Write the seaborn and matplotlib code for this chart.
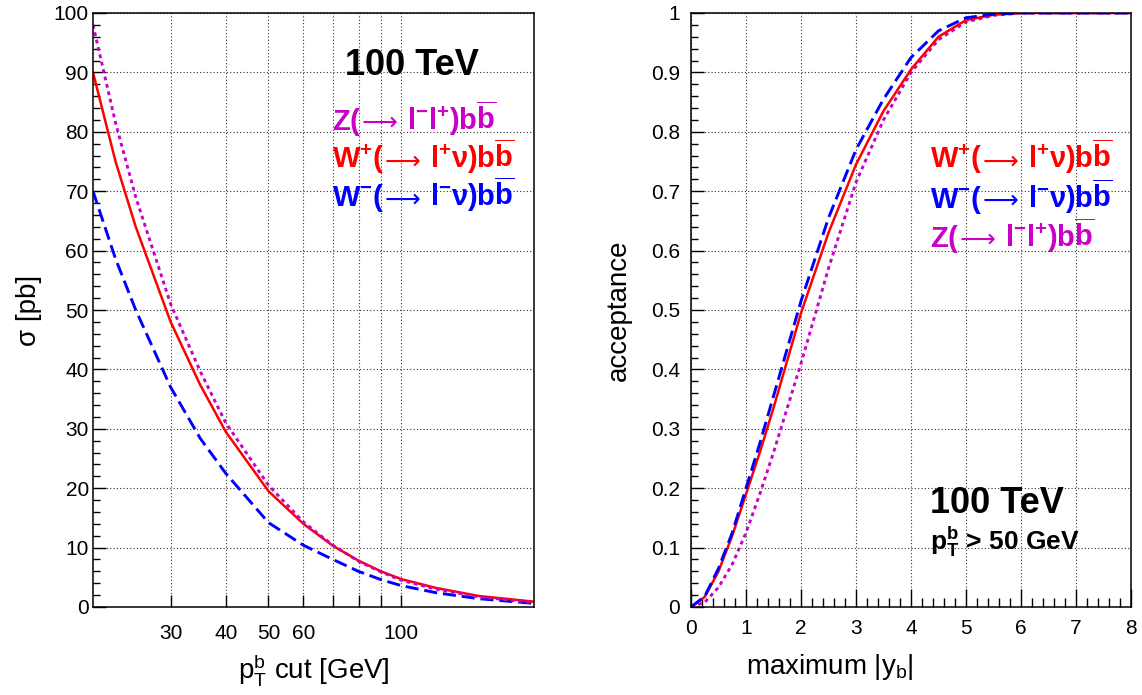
import matplotlib
matplotlib.use("Agg")
import matplotlib.pyplot as plt
from matplotlib.ticker import FixedLocator, FuncFormatter, MultipleLocator, NullLocator
from matplotlib.offsetbox import TextArea, HPacker, AnchoredOffsetbox, DrawingArea
import seaborn as sns
import pandas as pd

# -----------------------------
# Data
# -----------------------------
pt_cut = [20, 22.5, 25, 30, 35, 40, 50, 60, 70, 80, 90, 100, 120, 150, 200]
sigma_z = [98, 81.5, 69, 51, 39.7, 31, 20.5, 14.3, 10.4, 7.7, 5.9, 4.5, 3.0, 1.7, 0.75]
sigma_wp = [90, 75, 64, 48, 37.4, 29.5, 19.5, 14.0, 10.3, 7.8, 6.0, 4.7, 3.2, 1.85, 0.9]
sigma_wm = [70, 58.6, 50, 37, 28.4, 22.5, 14.2, 10.4, 8.0, 6.0, 4.6, 3.6, 2.4, 1.4, 0.6]

ymax = [0, 0.25, 0.5, 0.75, 1, 1.25, 1.5, 1.75, 2, 2.5, 3, 3.5, 4, 4.5, 5, 5.5, 6, 7, 8]
acc_wp = [0, 0.017, 0.06, 0.12, 0.19, 0.26, 0.335, 0.415, 0.495, 0.63, 0.745, 0.835, 0.905, 0.96, 0.988, 0.997, 1.0, 1.0, 1.0]
acc_wm = [0, 0.018, 0.065, 0.125, 0.2, 0.275, 0.355, 0.435, 0.515, 0.655, 0.77, 0.855, 0.925, 0.97, 0.992, 0.998, 1.0, 1.0, 1.0]
acc_z = [0, 0.008, 0.033, 0.072, 0.125, 0.19, 0.26, 0.335, 0.41, 0.57, 0.715, 0.82, 0.9, 0.955, 0.985, 0.996, 1.0, 1.0, 1.0]

pt_labels = [30, 40, 50, 60, 100]

# process labels: (before arrow, after arrow)
lab_z = (r"$\mathbf{Z(}$", r"$\mathbf{l^{-}l^{+})b\overline{b}}$")
lab_wp = (r"$\mathbf{W^{+}(}$", r"$\mathbf{l^{+}\nu)b\overline{b}}$")
lab_wm = (r"$\mathbf{W^{-}(}$", r"$\mathbf{l^{-}\nu)b\overline{b}}$")

RED = "#ff0000"
BLUE = "#0000ff"
MAG = "#c800c8"

# -----------------------------
# Style
# -----------------------------
sns.set_theme(style="white")
plt.rcParams["font.family"] = ["Liberation Sans", "DejaVu Sans"]
plt.rcParams["mathtext.fontset"] = "custom"
plt.rcParams["mathtext.rm"] = "Liberation Sans"
plt.rcParams["mathtext.bf"] = "Liberation Sans:bold"
plt.rcParams["mathtext.it"] = "Liberation Sans:italic"
plt.rcParams["mathtext.sf"] = "Liberation Sans"
for key in ["text.color", "axes.labelcolor", "xtick.color", "ytick.color"]:
    plt.rcParams[key] = "black"

fig = plt.figure(figsize=(11.42, 6.95), dpi=100)
ax1 = fig.add_axes([93 / 1142, 88 / 695, 441 / 1142, 594 / 695])
ax2 = fig.add_axes([691 / 1142, 88 / 695, 440 / 1142, 594 / 695])

styles = {
    "solid": dict(lw=1.8, dashes=()),
    "dash": dict(lw=2.1, dashes=(4.5, 2.0)),
    "dot": dict(lw=2.1, dashes=(1.3, 1.3)),
}


def draw(ax, x, y, color, kind):
    sns.lineplot(x=x, y=y, ax=ax, color=color, linewidth=styles[kind]["lw"], legend=False)
    line = ax.lines[-1]
    if styles[kind]["dashes"]:
        line.set_dashes(styles[kind]["dashes"])


def frame(ax):
    for s in ax.spines.values():
        s.set_visible(True)
        s.set_color("black")
        s.set_linewidth(1.1)
    ax.grid(True, which="major", color="#333333", linestyle=(0, (1, 2)), linewidth=0.8)
    ax.set_axisbelow(True)
    ax.tick_params(axis="both", which="both", direction="in", top=False, right=False,
                   bottom=True, left=True, colors="black", labelsize=15)
    ax.tick_params(axis="x", which="major", length=13, width=1.0, pad=9)
    ax.tick_params(axis="x", which="minor", length=6.5, width=1.0)
    ax.tick_params(axis="y", which="major", length=9.5, width=1.0)
    ax.tick_params(axis="y", which="minor", length=4.7, width=1.0)


def process_label(ax, x, y, parts, color, size=21):
    pre, post = parts
    boxes = [
        TextArea(pre, textprops=dict(color=color, fontsize=size)),
        TextArea("\u27f6", textprops=dict(color=color, fontsize=size - 3, family="DejaVu Sans",
                                          fontweight="normal")),
        DrawingArea(7, 1, 0, 0),
        TextArea(post, textprops=dict(color=color, fontsize=size)),
    ]
    pack = HPacker(children=boxes, align="baseline", pad=0, sep=0)
    box = AnchoredOffsetbox(loc="center left", child=pack, pad=0, borderpad=0, frameon=False,
                            bbox_to_anchor=(x, y), bbox_transform=ax.transAxes)
    ax.add_artist(box)


# -----------------------------
# Left: cross section vs pT cut
# -----------------------------
draw(ax1, pt_cut, sigma_wm, BLUE, "dash")
draw(ax1, pt_cut, sigma_wp, RED, "solid")
draw(ax1, pt_cut, sigma_z, MAG, "dot")
ax1.set_xscale("log")
ax1.set_xlim(20, 200)
ax1.set_ylim(0, 100)
frame(ax1)
ax1.xaxis.set_major_locator(FixedLocator([30, 40, 50, 60, 70, 80, 90, 100]))
ax1.xaxis.set_minor_locator(NullLocator())
ax1.xaxis.set_major_formatter(FuncFormatter(lambda v, p: f"{v:g}" if round(v) in pt_labels else ""))
ax1.tick_params(axis="x", which="major", length=9, pad=12)
ax1.yaxis.set_major_locator(MultipleLocator(10))
ax1.yaxis.set_minor_locator(MultipleLocator(2))
ax1.tick_params(axis="y", which="major", pad=3)
ax1.set_xlabel(r"$\mathregular{p_{T}^{b}}$ cut [GeV]", fontsize=20)
ax1.xaxis.set_label_coords(0.5, -0.075)
ax1.set_ylabel(r"σ [pb]", fontsize=20)
ax1.yaxis.set_label_coords(-0.115, 0.5)

ax1.text(0.571, 0.911, "100 TeV", transform=ax1.transAxes, fontsize=26,
         fontweight="bold", ha="left", va="center")
process_label(ax1, 0.542, 0.823, lab_z, MAG)
process_label(ax1, 0.542, 0.758, lab_wp, RED)
process_label(ax1, 0.542, 0.694, lab_wm, BLUE)

# -----------------------------
# Right: acceptance vs max |y_b|
# -----------------------------
draw(ax2, ymax, acc_z, MAG, "dot")
draw(ax2, ymax, acc_wp, RED, "solid")
draw(ax2, ymax, acc_wm, BLUE, "dash")
ax2.set_xlim(0, 8)
ax2.set_ylim(0, 1)
frame(ax2)
ax2.xaxis.set_major_locator(MultipleLocator(1))
ax2.xaxis.set_minor_locator(MultipleLocator(0.2))
ax2.yaxis.set_major_locator(MultipleLocator(0.1))
ax2.yaxis.set_minor_locator(MultipleLocator(0.02))
ax2.xaxis.set_major_formatter(FuncFormatter(lambda v, p: f"{v:g}"))
ax2.yaxis.set_major_formatter(FuncFormatter(lambda v, p: f"{v:g}"))
ax2.tick_params(axis="y", which="major", pad=8)
ax2.set_xlabel(r"maximum $\mathregular{|y_{b}|}$", fontsize=20)
ax2.xaxis.set_label_coords(0.316, -0.075)
ax2.set_ylabel("acceptance", fontsize=20)
ax2.yaxis.set_label_coords(-0.134, 0.5)

process_label(ax2, 0.543, 0.758, lab_wp, RED)
process_label(ax2, 0.543, 0.692, lab_wm, BLUE)
process_label(ax2, 0.543, 0.626, lab_z, MAG)
ax2.text(0.543, 0.175, "100 TeV", transform=ax2.transAxes, fontsize=26,
         fontweight="bold", ha="left", va="center")
ax2.text(0.543, 0.109, r"$\mathbf{p_{T}^{b}}$ > 50 GeV", transform=ax2.transAxes, fontsize=19,
         fontweight="bold", ha="left", va="center")

fig.savefig("out.png", dpi=100)
